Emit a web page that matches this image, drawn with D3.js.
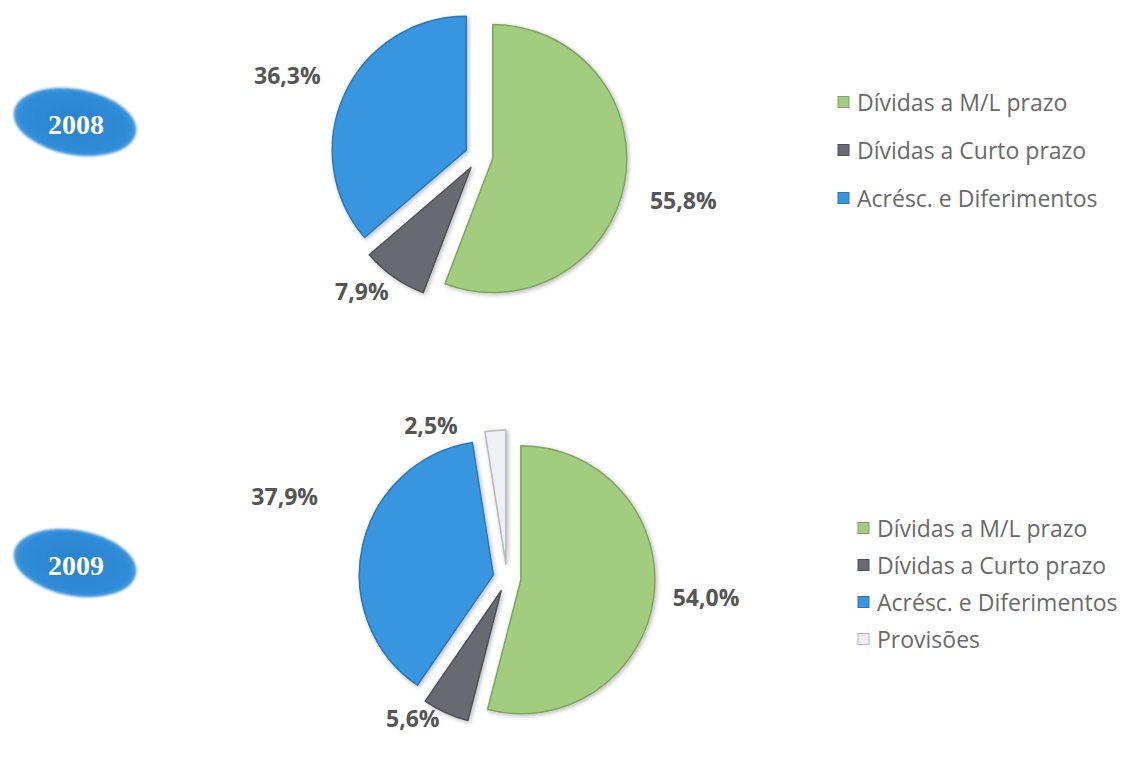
<!DOCTYPE html>
<html>
<head>
<meta charset="utf-8">
<script src="https://cdn.jsdelivr.net/npm/d3@7"></script>
<style>
  html, body { margin: 0; padding: 0; background: #ffffff; }
  svg { display: block; }
</style>
</head>
<body>
<script>
// ---- data ----
const categories2008 = ["Dívidas a M/L prazo", "Dívidas a Curto prazo", "Acrésc. e Diferimentos"];
const values2008 = [55.8, 7.9, 36.3];

const categories2009 = ["Dívidas a M/L prazo", "Dívidas a Curto prazo", "Acrésc. e Diferimentos", "Provisões"];
const values2009 = [54.0, 5.6, 37.9, 2.5];

const yearLabels = ["2008", "2009"];

// ---- styling ----
const sliceColors = {
  "Dívidas a M/L prazo":    { fill: "#a2cd7e", edge: "#7ea560" },
  "Dívidas a Curto prazo":  { fill: "#676b71", edge: "#4e5156" },
  "Acrésc. e Diferimentos": { fill: "#3796e0", edge: "#2a78bb" },
  "Provisões":              { fill: "#eef0f5", edge: "#b3b7bf" }
};

const W = 1135, H = 764;
const radius = 134, explode = 14;

// layout of each panel (centre of pie, legend block, year badge, label placement tweaks)
const panels = [
  {
    year: yearLabels[0], cats: categories2008, vals: values2008,
    cx: 479, cy: 156,
    legendX: 838, legendY: 102, legendStep: 48,
    badgeX: 75, badgeY: 122,
    labelShift: [1.8, 5.8, -1.8], labelDist: [209, 179, 208]
  },
  {
    year: yearLabels[1], cats: categories2009, vals: values2009,
    cx: 507, cy: 578,
    legendX: 858, legendY: 528, legendStep: 37,
    badgeX: 75, badgeY: 563,
    labelShift: [-1.7, 9.4, 7.5, -21.9], labelDist: [200, 169, 237, 171]
  }
];

const fmt = v => v.toFixed(1).replace(".", ",") + "%";

const svg = d3.select("body").append("svg")
  .attr("width", W).attr("height", H)
  .attr("viewBox", `0 0 ${W} ${H}`);

svg.append("rect").attr("width", W).attr("height", H).attr("fill", "#ffffff");

const defs = svg.append("defs");

// soft shadow under the slices
const shadow = defs.append("filter").attr("id", "sliceShadow")
  .attr("x", "-20%").attr("y", "-20%").attr("width", "140%").attr("height", "140%");
shadow.append("feDropShadow")
  .attr("dx", 1.5).attr("dy", 1.5).attr("stdDeviation", 2)
  .attr("flood-color", "#000").attr("flood-opacity", 0.28);

// blue fill for the year badges
const badgeGrad = defs.append("radialGradient").attr("id", "badgeGrad")
  .attr("cx", "50%").attr("cy", "50%").attr("r", "55%");
badgeGrad.append("stop").attr("offset", "0%").attr("stop-color", "#2a82cc");
badgeGrad.append("stop").attr("offset", "80%").attr("stop-color", "#2f8cd8");
badgeGrad.append("stop").attr("offset", "100%").attr("stop-color", "#58a6e4");

const badgeBlur = defs.append("filter").attr("id", "badgeBlur")
  .attr("x", "-10%").attr("y", "-10%").attr("width", "120%").attr("height", "120%");
badgeBlur.append("feGaussianBlur").attr("stdDeviation", 0.8);

const pie = d3.pie().sort(null).value(d => d.value);
const arc = d3.arc().innerRadius(0).outerRadius(radius);

panels.forEach(p => {
  const data = p.cats.map((c, i) => ({ cat: c, value: p.vals[i] }));
  const arcs = pie(data);

  const g = svg.append("g").attr("transform", `translate(${p.cx},${p.cy})`);

  // exploded slices
  g.selectAll("path.slice").data(arcs).enter().append("path")
    .attr("class", "slice")
    .attr("d", arc)
    .attr("transform", d => {
      const mid = (d.startAngle + d.endAngle) / 2;
      return `translate(${explode * Math.sin(mid)},${-explode * Math.cos(mid)})`;
    })
    .attr("fill", d => sliceColors[d.data.cat].fill)
    .attr("stroke", d => sliceColors[d.data.cat].edge)
    .attr("stroke-width", 1.5)
    .attr("stroke-linejoin", "round")
    .attr("filter", "url(#sliceShadow)");

  // percentage labels
  g.selectAll("text.pct").data(arcs).enter().append("text")
    .attr("class", "pct")
    .attr("x", (d, i) => {
      const a = (d.startAngle + d.endAngle) / 2 + p.labelShift[i] * Math.PI / 180;
      return p.labelDist[i] * Math.sin(a);
    })
    .attr("y", (d, i) => {
      const a = (d.startAngle + d.endAngle) / 2 + p.labelShift[i] * Math.PI / 180;
      return -p.labelDist[i] * Math.cos(a);
    })
    .attr("text-anchor", "middle")
    .attr("dominant-baseline", "central")
    .attr("font-family", "'Open Sans', sans-serif")
    .attr("font-weight", 700)
    .attr("font-size", 23)
    .attr("fill", "#555555")
    .text(d => fmt(d.data.value));

  // legend
  const lg = svg.append("g").attr("transform", `translate(${p.legendX},${p.legendY})`);
  const items = lg.selectAll("g.item").data(p.cats).enter().append("g")
    .attr("class", "item")
    .attr("transform", (d, i) => `translate(0,${i * p.legendStep})`);
  items.append("rect")
    .attr("x", 0).attr("y", -5.5).attr("width", 11).attr("height", 11)
    .attr("fill", d => sliceColors[d].fill)
    .attr("stroke", d => sliceColors[d].edge)
    .attr("stroke-width", 1);
  items.append("text")
    .attr("x", 19).attr("y", 0)
    .attr("dominant-baseline", "central")
    .attr("font-family", "'Open Sans', sans-serif")
    .attr("font-size", 23)
    .attr("fill", "#6a6a6a")
    .text(d => d);

  // year badge
  const bg = svg.append("g").attr("transform", `translate(${p.badgeX},${p.badgeY}) rotate(10)`);
  bg.append("ellipse")
    .attr("rx", 62).attr("ry", 33)
    .attr("fill", "url(#badgeGrad)")
    .attr("filter", "url(#badgeBlur)");
  svg.append("text")
    .attr("x", p.badgeX + 1).attr("y", p.badgeY + 2)
    .attr("text-anchor", "middle")
    .attr("dominant-baseline", "central")
    .attr("font-family", "'Liberation Serif', 'Times New Roman', serif")
    .attr("font-weight", 700)
    .attr("font-size", 28)
    .attr("fill", "#ffffff")
    .text(p.year);
});
</script>
</body>
</html>
